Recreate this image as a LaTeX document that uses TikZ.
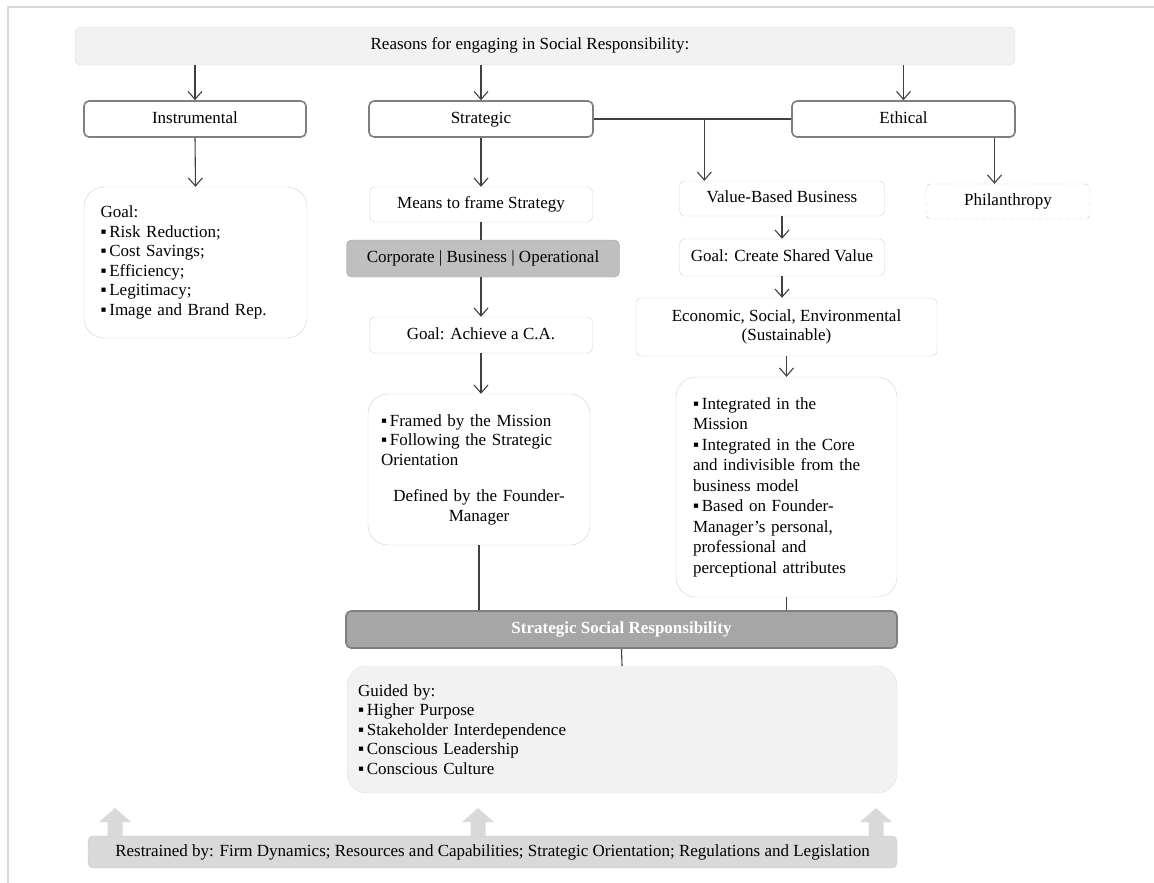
\documentclass[tikz,border=0pt]{standalone}
\usepackage{fontspec}
\setmainfont{Liberation Serif}
\usepackage{tikz}
\usetikzlibrary{arrows.meta,positioning,calc}
\definecolor{LineGray}{RGB}{64,64,64}
\definecolor{FrameGray}{RGB}{217,217,217}
\definecolor{CatGray}{RGB}{127,127,127}
\definecolor{SoftEdge}{RGB}{210,210,210}
\definecolor{PaleFill}{RGB}{242,242,242}
\definecolor{MidFill}{RGB}{191,191,191}
\definecolor{DarkFill}{RGB}{166,166,166}
\newcommand{\bl}{▪\,}

\begin{document}
\begin{tikzpicture}[x=1pt,y=-1pt,>={Straight Barb[length=8pt,width=14pt]},
  every node/.style={font=\fontsize{17}{19.5}\selectfont,inner sep=2pt},
  oneline/.style={text height=11.5pt,text depth=3.5pt},
  topbox/.style={rounded corners=6pt,fill=PaleFill,draw=PaleFill!90!black,minimum height=38pt,oneline},
  catbox/.style={rounded corners=5pt,fill=white,draw=CatGray,line width=1.6pt,minimum height=36pt,oneline},
  softbox/.style={rounded corners=5pt,fill=white,draw=SoftEdge,minimum height=36pt},
  bigbox/.style={rounded corners=20pt,fill=white,draw=SoftEdge},
  darkbox/.style={rounded corners=5pt,fill=MidFill,draw=MidFill!85!black,minimum height=37pt,oneline},
  ssrbox/.style={rounded corners=5pt,fill=DarkFill,draw=CatGray,line width=1.6pt,minimum height=37pt,oneline,
    text=white,font=\fontsize{17}{19.5}\selectfont\bfseries},
  dashbox/.style={rounded corners=5pt,draw=MidFill,dashed,dash pattern=on 4pt off 3pt,minimum height=35pt,oneline},
  conn/.style={LineGray,line width=1.1pt},
  blockarrow/.style={fill=FrameGray}]
  \useasboundingbox (0,0) rectangle (1154,883);
  \draw[FrameGray,line width=1.2pt] (8,883) -- (8,7) -- (1154,7);

  \node[topbox,minimum width=940pt] (top) at (545,46) {Reasons for engaging in Social Responsibility:\hspace*{30pt}};

  \node[catbox,minimum width=222pt] (inst) at (195,119) {Instrumental};
  \node[catbox,minimum width=224pt] (strat) at (481,119) {Strategic};
  \node[catbox,minimum width=223pt] (eth) at (903.5,119) {Ethical};

  % instrumental column
  \node[bigbox,text width=190pt,inner xsep=16.5pt,minimum height=151pt] (goal) at (195.5,262.5)
    {Goal:\\ \bl Risk Reduction;\\ \bl Cost Savings;\\ \bl Efficiency;\\ \bl Legitimacy;\\ \bl Image and Brand Rep.};

  % strategic column
  \node[softbox,minimum width=223pt,minimum height=35pt,oneline] (means) at (481,204.5) {Means to frame Strategy};
  \node[darkbox,minimum width=273pt] (corp) at (483,258.5) {Corporate | Business | Operational};
  \node[softbox,minimum width=223pt,oneline] (goalca) at (481,335) {Goal: Achieve a C.A.};
  \node[bigbox,text width=196pt,inner xsep=13pt,minimum height=151pt] (framed) at (479,469.5)
    {\raggedright \bl Framed by the Mission\\ \bl Following the Strategic\\ Orientation\par\vspace{17pt}
     \centering Defined by the Founder-\\ Manager\par};

  % ethical column
  \node[softbox,minimum width=205pt,minimum height=35pt,oneline] (value) at (782,198.5) {Value-Based Business};
  \node[softbox,minimum width=205pt,minimum height=37pt,oneline] (shared) at (782,257.5) {Goal: Create Shared Value};
  \node[softbox,minimum width=301pt,minimum height=58pt,align=center] (econ) at (786.5,327)
    {Economic, Social, Environmental\\ (Sustainable)};
  \node[bigbox,text width=187pt,inner xsep=17pt,minimum height=220pt,font=\fontsize{17}{20.5}\selectfont] (integ) at (786.5,487)
    {\raggedright \bl Integrated in the\\ Mission\\ \bl Integrated in the Core\\ and indivisible from the\\ business model\\
     \bl Based on Founder-\\ Manager’s personal,\\ professional and\\ perceptional attributes\par};
  \node[dashbox,minimum width=164pt] (phil) at (1008,201.5) {Philanthropy};

  % bottom part
  \node[ssrbox,minimum width=551pt] (ssr) at (621.5,629.5) {Strategic Social Responsibility};
  \node[bigbox,fill=PaleFill,draw=PaleFill!92!black,text width=528pt,inner xsep=11pt,minimum height=127pt] (guided) at (622,729.5)
    {\raggedright Guided by:\\ \bl Higher Purpose\\ \bl Stakeholder Interdependence\\ \bl Conscious Leadership\\ \bl Conscious Culture\par};
  \node[rounded corners=5pt,fill=FrameGray,draw=FrameGray!92!black,minimum width=809pt,minimum height=32pt,oneline] (restrain) at (492.5,852)
    {Restrained by: Firm Dynamics; Resources and Capabilities; Strategic Orientation; Regulations and Legislation};

  \foreach \bx in {115,478,876}
    \fill[blockarrow] (\bx-7.5,836) -- (\bx-7.5,822) -- (\bx-16,822) -- (\bx,808) -- (\bx+16,822) -- (\bx+7.5,822) -- (\bx+7.5,836) -- cycle;

  % connectors
  \draw[conn,->] (top.south -| inst.north) -- (inst.north);
  \draw[conn,->] (top.south -| strat.north) -- (strat.north);
  \draw[conn,->] (top.south -| eth.north) -- (eth.north);
  \draw[conn,->] (inst.south) -- (goal.north);
  \draw[conn,->] (strat.south) -- (means.north);
  \draw[conn] (means.south) -- (corp.north -| means.south);
  \draw[conn,->] (corp.south -| goalca.north) -- (goalca.north);
  \draw[conn,->] (goalca.south) -- (framed.north -| goalca.south);
  \draw[conn] (framed.south) -- (framed.south |- ssr.north);
  \draw[conn] (strat.east) -- (eth.west);
  \coordinate (jn) at ($(strat.east)!0.56!(eth.west)$);
  \draw[conn,->] (jn) -- (jn |- value.north);
  \draw[conn,->] (value.south) -- (shared.north);
  \draw[conn,->] (shared.south) -- (shared.south |- econ.north);
  \draw[conn,->] (econ.south) -- (integ.north);
  \draw[conn] (integ.south) -- (integ.south |- ssr.north);
  \draw[conn] (ssr.south) -- (guided.north);
  \coordinate (ph) at ([xshift=91pt]eth.south);
  \draw[conn,->] (ph) -- (ph |- phil.north);
\end{tikzpicture}
\end{document}
